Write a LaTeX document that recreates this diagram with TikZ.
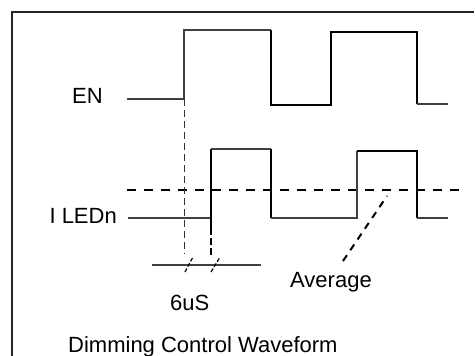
\documentclass[tikz,border=0pt]{standalone}
\usepackage{fontspec}
\setmainfont{Liberation Sans}
\begin{document}
\begin{tikzpicture}[x=1pt,y=-1pt,
  lbl/.style={inner sep=0pt,font=\fontsize{22}{26}\selectfont},
  thinw/.style={line width=1.1pt,color=black!75},
  thickw/.style={line width=2.2pt,color=black},
  avgline/.style={line width=2.2pt,dash pattern=on 9pt off 8pt},
  guide/.style={line width=1pt,color=black!80,dash pattern=on 7pt off 4pt},
  guidethick/.style={line width=2.5pt,dash pattern=on 7pt off 3pt},
  slash/.style={line width=1.2pt,dash pattern=on 4pt off 2pt},
  pointer/.style={line width=2pt,dash pattern=on 7pt off 6pt}]
\useasboundingbox (0,0) rectangle (475,356);
% frame
\draw[line width=1.6pt,color=black!85] (12,356) -- (12,12) -- (474,12);
% labels
\node[lbl,anchor=base east] (en) at (103,103) {EN};
\node[lbl,anchor=base east] (iled) at (117,223) {I LEDn};
\node[lbl,anchor=base west] (six) at (170,310) {6uS};
\node[lbl,anchor=base west] (avg) at (290,287) {Average};
\node[lbl,anchor=base west] (title) at (68,352) {Dimming Control Waveform};
% EN waveform
\draw[thinw] (127,99) -- (184,99) -- (184,30) -- (271,30);
\draw[thickw,line join=miter] (271,30) -- (271,105) -- (331,105) -- (331,32) -- (417,32) -- (417,104);
\draw[thinw] (417,104) -- (448,104);
% average dashed level
\draw[avgline] (127,190) -- (460,190);
% I LEDn waveform
\draw[thinw] (128,218) -- (211,218);
\draw[thickw] (211,228) -- (211,149);
\draw[thinw] (211,149) -- (271,149);
\draw[line width=1.6pt] (271,149) -- (271,218);
\draw[thinw] (271,218) -- (357,218) -- (357,151);
\draw[thickw,line join=miter] (357,151) -- (417,151) -- (417,218);
\draw[thinw] (417,218) -- (448,218);
% timing guides
\coordinate (g1a) at (184,99);
\coordinate (g1b) at (184,254);
\coordinate (g2a) at (211,228);
\coordinate (g2b) at (211,256);
\draw[guide] (g1a) -- (g1b);
\draw[guidethick] (g2a) -- (g2b);
\coordinate (hl) at (152,265);
\coordinate (hr) at (261,265);
\draw[thinw] (hl) -- (hr);
\draw[slash] (185,272) -- (193,257);
\draw[slash] (211,272) -- (220,257);
% average pointer
\coordinate (pa) at (343,261);
\coordinate (pb) at (387,196);
\draw[pointer] (pa) -- (pb);
\end{tikzpicture}
\end{document}
